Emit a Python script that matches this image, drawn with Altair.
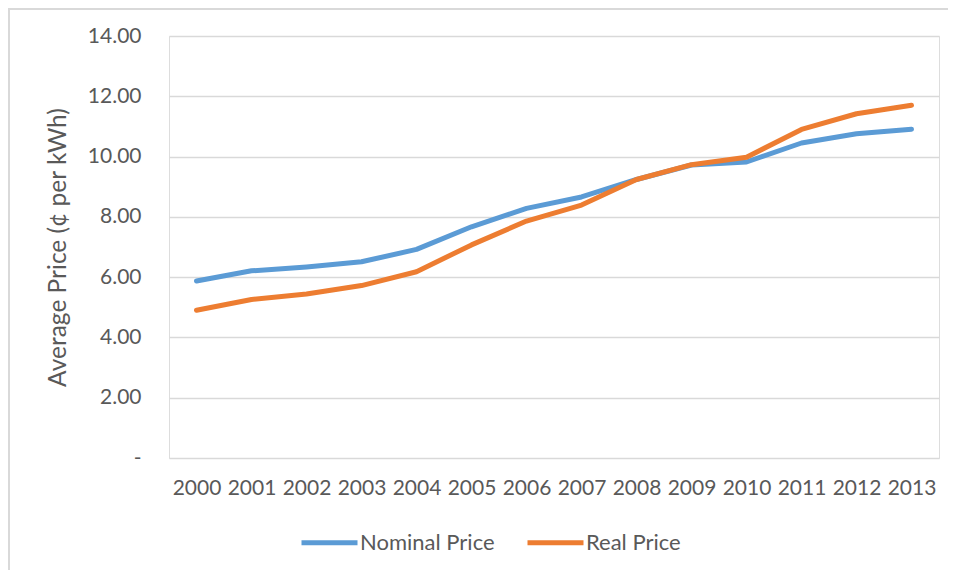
import altair as alt
import pandas as pd

years = [str(y) for y in range(2000, 2014)]
nominal = [5.87, 6.21, 6.34, 6.51, 6.92, 7.67, 8.28, 8.66, 9.24, 9.72, 9.82, 10.45, 10.76, 10.91]
real = [4.90, 5.26, 5.44, 5.72, 6.18, 7.07, 7.86, 8.39, 9.24, 9.73, 9.98, 10.90, 11.42, 11.70]
series = ["Nominal Price", "Real Price"]
colors = ["#5B9BD5", "#ED7D31"]
y_ticks = [0, 2, 4, 6, 8, 10, 12, 14]

rows = []
for name, vals in zip(series, [nominal, real]):
    for yr, v in zip(years, vals):
        rows.append({"Year": yr, "Price": v, "Series": name})
df = pd.DataFrame(rows)

FONT = "Lato"
TXT = "#595959"
GRID = "#D9D9D9"

lines = alt.Chart(df).mark_line(strokeWidth=5, strokeCap="round", strokeJoin="round").encode(
    x=alt.X("Year:O", scale=alt.Scale(type="point", padding=0.5),
            axis=alt.Axis(title=None, labelAngle=0, labelFontSize=21, labelFont=FONT,
                          labelColor=TXT, labelPadding=19, ticks=False, domain=False,
                          grid=False)),
    y=alt.Y("Price:Q", scale=alt.Scale(domain=[0, 14], nice=False, zero=True),
            axis=alt.Axis(title="Average Price (¢ per kWh)", values=y_ticks,
                          labelExpr="datum.value == 0 ? '-\u00a0\u00a0\u00a0' : format(datum.value, '.2f')",
                          labelFontSize=21, labelFont=FONT, labelColor=TXT, labelPadding=28,
                          ticks=False, domain=False, grid=True, gridColor=GRID, gridWidth=1.4,
                          titleFont=FONT, titleFontSize=24.5, titleFontWeight="normal",
                          titleColor=TXT, titleX=-99, titleY=211)),
    color=alt.Color("Series:N", scale=alt.Scale(domain=series, range=colors),
                    legend=alt.Legend(title=None, orient="none", legendX=130, legendY=476,
                                      direction="horizontal", symbolType="stroke",
                                      symbolSize=3136, symbolStrokeWidth=5,
                                      labelFont=FONT, labelFontSize=22, labelColor=TXT,
                                      labelOffset=0, columnPadding=22, padding=0)),
    order=alt.Order("Year:O"),
)

border_top = alt.Chart(df).mark_rule(color=GRID, strokeWidth=2).encode(
    x=alt.value(-161), x2=alt.value(790), y=alt.value(-27)
)
border_left = alt.Chart(df).mark_rule(color=GRID, strokeWidth=2).encode(
    x=alt.value(-160), y=alt.value(-28), y2=alt.value(540)
)

chart = alt.layer(border_top, border_left, lines).properties(
    width=770, height=422,
    autosize=alt.AutoSizeParams(type="none"),
    padding={"left": 161, "top": 28, "right": 9, "bottom": 112},
).configure_view(stroke=None).configure(background="white")

chart.save("out.html", embed_options={"renderer": "svg", "actions": False})
